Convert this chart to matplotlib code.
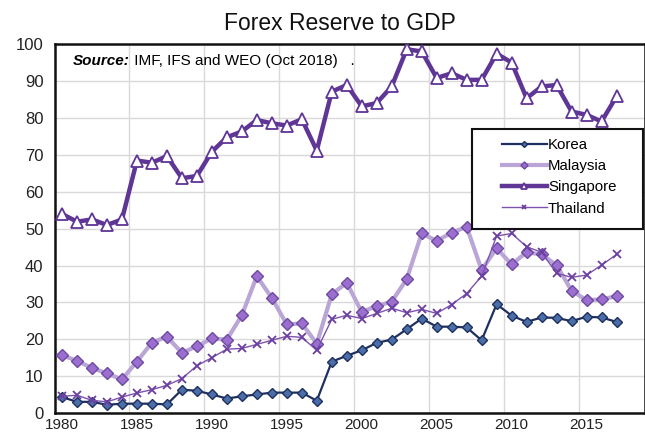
import matplotlib
matplotlib.use("Agg")
import matplotlib.pyplot as plt
from matplotlib.patches import Rectangle

plt.rcParams["font.family"] = ["Liberation Sans", "DejaVu Sans"]

years = list(range(1980, 2018))

korea = [4.3, 3.0, 3.0, 2.2, 2.5, 2.5, 2.5, 2.3, 6.3, 6.0, 5.0, 3.9, 4.5, 5.0,
         5.5, 5.5, 5.5, 3.3, 13.9, 15.5, 17.0, 19.0, 19.9, 22.7, 25.6, 23.4,
         23.4, 23.2, 19.7, 29.5, 26.4, 24.7, 25.9, 25.8, 24.9, 26.1, 25.9, 24.7]

malaysia = [15.7, 14.1, 12.2, 10.7, 9.1, 13.9, 19.1, 20.7, 16.3, 18.1, 20.2,
            19.9, 26.5, 37.1, 31.2, 24.0, 24.3, 18.8, 32.2, 35.3, 27.4, 29.0,
            30.2, 36.3, 48.7, 46.7, 48.9, 50.5, 38.8, 44.7, 40.3, 43.6, 43.0,
            40.1, 33.2, 30.6, 30.8, 31.7]

singapore = [54.0, 51.9, 52.5, 51.0, 52.5, 68.5, 67.9, 69.7, 63.7, 64.3, 70.9,
             74.8, 76.4, 79.5, 78.6, 78.0, 79.7, 71.2, 87.2, 89.0, 83.2, 84.1,
             88.6, 98.7, 98.1, 90.9, 92.2, 90.4, 90.4, 97.5, 95.1, 85.4, 88.6,
             89.0, 81.8, 80.9, 79.1, 85.9]

thailand = [4.5, 4.8, 3.4, 3.0, 4.3, 5.4, 6.3, 7.5, 9.3, 12.8, 15.0, 17.3,
            17.5, 18.6, 19.7, 20.8, 20.5, 17.0, 25.4, 26.5, 25.6, 27.0, 28.4,
            27.2, 28.1, 27.0, 29.4, 32.4, 37.1, 48.0, 48.7, 45.1, 43.6, 37.9,
            36.8, 37.4, 40.1, 43.0]

xticks = [1980, 1985, 1990, 1995, 2000, 2005, 2010, 2015]
yticks = list(range(0, 101, 10))

fig = plt.figure(figsize=(6.45, 4.36), dpi=100)
ax = fig.add_axes([0.0845, 0.053, 0.9155, 0.845])

ax.plot(years, korea, color="#1f3060", lw=1.6, marker="D", ms=5,
        mfc="#4a6fa8", mec="#1f3060", mew=1.0, label="Korea", zorder=4)
ax.plot(years, malaysia, color="#b9a6d6", lw=3.0, marker="D", ms=6,
        mfc="#9b6fcf", mec="#6f4aa0", mew=1.0, label="Malaysia", zorder=3)
ax.plot(years, singapore, color="#5f3596", lw=3.2, marker="^", ms=8,
        mfc="white", mec="#5f3596", mew=1.3, label="Singapore", zorder=3)
ax.plot(years, thailand, color="#7e52b0", lw=1.0, marker="x", ms=6,
        mec="#6a3fa0", mew=1.3, label="Thailand", zorder=4)

ax.set_xlim(1979.5, 2018.9)
ax.set_ylim(0, 100)
ax.set_xticks(xticks)
ax.set_yticks(yticks)
ax.set_xticks([y - 0.5 for y in xticks[1:]], minor=True)
ax.tick_params(axis="both", which="both", length=0, labelcolor="#222222")
ax.tick_params(axis="x", labelsize=11, pad=4)
ax.tick_params(axis="y", labelsize=12, pad=8)
ax.grid(False)
ax.grid(True, axis="y", which="major", color="#d9d9d9", lw=1.0)
ax.grid(True, axis="x", which="minor", color="#d9d9d9", lw=1.0)
ax.set_axisbelow(True)
for s in ax.spines.values():
    s.set_linewidth(1.8)
    s.set_color("#111111")

fig.text(0.527, 0.947, "Forex Reserve to GDP", ha="center", va="center",
         fontsize=16.5, color="#111111")

t1 = ax.text(0.031, 0.955, "Source:", transform=ax.transAxes, fontsize=11,
             fontweight="bold", fontstyle="italic", va="center")
ax.annotate(" IMF, IFS and WEO (Oct 2018)   .", xy=(1, 0), xycoords=t1,
            va="bottom", fontsize=11)

# legend box drawn separately so entries can sit centred in a wider frame
ax.add_patch(Rectangle((0.707, 0.5), 0.2895, 0.271, transform=ax.transAxes,
                       facecolor="white", edgecolor="#111111", lw=1.5,
                       zorder=4.5))
leg = ax.legend(loc="center", bbox_to_anchor=(0.8545, 0.641),
                borderaxespad=0, fontsize=10.8, handlelength=3.0,
                handletextpad=0.1, labelspacing=0.48, frameon=False,
                markerscale=0.6)
leg.set_zorder(5)

fig.savefig("out.png", dpi=100)
